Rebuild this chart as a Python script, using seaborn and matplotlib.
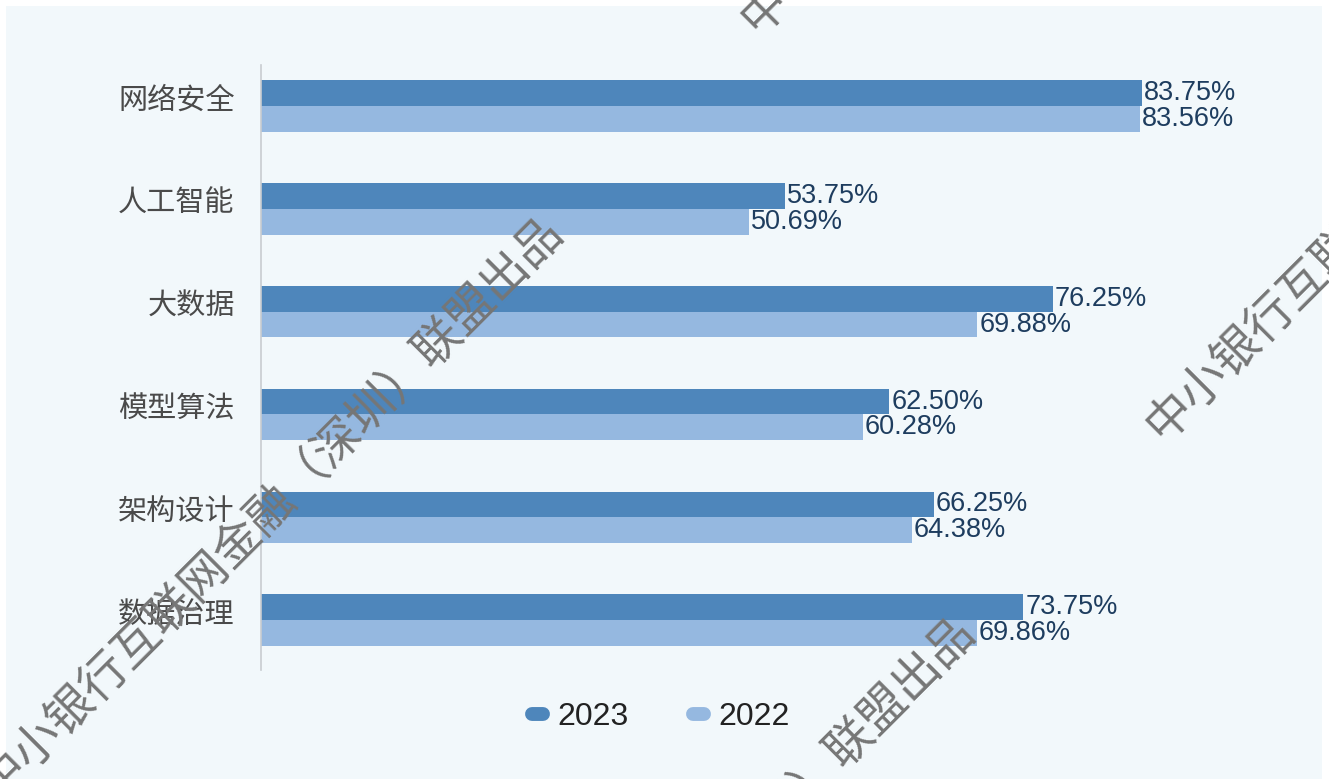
import matplotlib
matplotlib.use("Agg")
import matplotlib.pyplot as plt
import matplotlib.transforms as mtransforms
import seaborn as sns
import pandas as pd
from matplotlib.lines import Line2D
from matplotlib.patches import Rectangle

# Survey shares (%) by technology area
categories = ["网络安全", "人工智能", "大数据", "模型算法", "架构设计", "数据治理"]
share_2023 = [83.75, 53.75, 76.25, 62.50, 66.25, 73.75]
share_2022 = [83.56, 50.69, 69.88, 60.28, 64.38, 69.86]
years = ["2023", "2022"]
watermark = "中小银行互联网金融（深圳）联盟出品"

BG = "#f2f8fb"
DARK = "#4e86bb"
LIGHT = "#95b8e0"
VALUE_COLOR = "#1e3d5f"
LABEL_COLOR = "#4a4a4a"

sns.set_theme(style="white")
plt.rcParams["font.family"] = ["Liberation Sans", "Noto Sans CJK SC", "DejaVu Sans"]

df = pd.DataFrame({
    "category": categories * 2,
    "share": share_2023 + share_2022,
    "year": [years[0]] * len(categories) + [years[1]] * len(categories),
})

W, H = 1329, 779
fig = plt.figure(figsize=(W / 100, H / 100), dpi=100, facecolor="white")
fig.add_artist(Rectangle((6 / W, 0), (1322 - 6) / W, 1 - 6 / H,
                         transform=fig.transFigure, facecolor=BG,
                         edgecolor="none", zorder=-1))

ax = fig.add_axes([261 / W, 1 - 670 / H, (1300 - 261) / W, 605 / H])
ax.set_facecolor("none")

sns.barplot(data=df, x="share", y="category", hue="year",
            order=categories, hue_order=years, orient="h",
            palette=[DARK, LIGHT], width=0.5, saturation=1,
            linewidth=0, errorbar=None, legend=False, ax=ax)

for cont in ax.containers:
    ax.bar_label(cont, labels=[f"{v:.2f}%" for v in cont.datavalues],
                 padding=1.5, fontsize=19.5, color=VALUE_COLOR)

ax.set_xlim(9.74, 97.0)
ax.set_ylim(5.486, -0.40)
ax.set_xticks([])
ax.set_xlabel("")
ax.set_ylabel("")
ax.tick_params(axis="y", length=0, pad=19, labelsize=21, labelcolor=LABEL_COLOR)
# category names sit level with the upper (2023) bar
lift = mtransforms.ScaledTranslation(0, 8 / 100, fig.dpi_scale_trans)
for lbl in ax.get_yticklabels():
    lbl.set_transform(lbl.get_transform() + lift)
for side in ("top", "right", "bottom"):
    ax.spines[side].set_visible(False)
ax.spines["left"].set_color("#c8ccd0")
ax.spines["left"].set_linewidth(1.2)

handles = [Line2D([0], [0], color=c, lw=10, solid_capstyle="round") for c in (DARK, LIGHT)]
fig.legend(handles, years, loc="center", bbox_to_anchor=(661 / W, 1 - 717 / H),
           ncol=2, frameon=False, fontsize=23, handlelength=0.35,
           handletextpad=0.45, columnspacing=2.0, labelcolor="#222222")

# Diagonal publisher marks across the card
for x, y, ha in [(555, 223, "right"), (967, 623, "right"),
                 (1153, 432, "left"), (748, 25, "left")]:
    fig.text(x / W, 1 - y / H, watermark, rotation=45, rotation_mode="anchor",
             ha=ha, va="center", fontsize=34, fontweight="light", color="#767676",
             family=["Noto Sans CJK SC"], zorder=10)

fig.savefig("out.png", dpi=100, facecolor="white")
